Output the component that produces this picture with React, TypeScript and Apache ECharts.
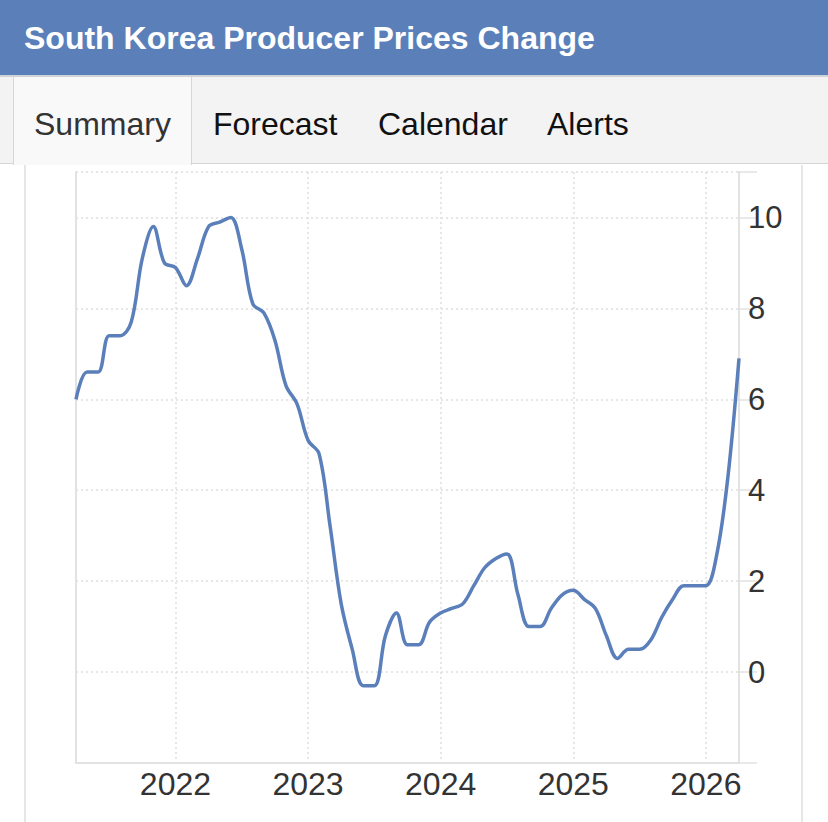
import { useEffect, useRef } from "react";
import * as echarts from "echarts";

const FONT = '"Liberation Sans", Arial, Helvetica, sans-serif';

const title = "South Korea Producer Prices Change";
const tabs = ["Summary", "Forecast", "Calendar", "Alerts"];
const tabLeft = [34, 213, 378, 547];

// Monthly year-on-year change in producer prices, Apr 2021 – Apr 2026 (%)
const ppiChange = [
  // 2021 (Apr–Dec)
  6.0, 6.6, 6.6, 7.4, 7.4, 7.7, 9.1, 9.8, 9.0,
  // 2022
  8.9, 8.5, 9.1, 9.8, 9.9, 10.0, 9.3, 8.1, 7.9, 7.3, 6.3, 5.9,
  // 2023
  5.1, 4.8, 3.2, 1.5, 0.5, -0.3, -0.3, 0.8, 1.3, 0.6, 0.6, 1.1,
  // 2024
  1.3, 1.4, 1.5, 1.9, 2.3, 2.5, 2.6, 1.7, 1.0, 1.0, 1.4, 1.7,
  // 2025
  1.8, 1.6, 1.4, 0.8, 0.3, 0.5, 0.5, 0.7, 1.2, 1.6, 1.9, 1.9,
  // 2026 (Jan–Apr)
  1.9, 2.6, 4.3, 6.9,
];

const firstYear = 2021;
const firstMonth = 4;
const categories: string[] = ppiChange.map((_, i) => {
  const m0 = firstMonth - 1 + i;
  const y = firstYear + Math.floor(m0 / 12);
  const m = (m0 % 12) + 1;
  return `${y}-${String(m).padStart(2, "0")}`;
});

const yearLabels = ["2022", "2023", "2024", "2025", "2026"];
const yTickLabels = [0, 2, 4, 6, 8, 10];

const isYearStart = (index: number) => {
  const c = categories[index];
  return c.endsWith("-01") && yearLabels.includes(c.slice(0, 4));
};

const gridStroke = "#dedede";
const axisStroke = "#e2e2e2";
const lineColor = "#5a7fba";

function PpiChart() {
  const ref = useRef<HTMLDivElement>(null);

  useEffect(() => {
    if (!ref.current) return;
    const chart = echarts.init(ref.current, undefined, { renderer: "svg" });
    chart.setOption({
      animation: false,
      grid: {
        left: 76,
        right: 89,
        top: 8,
        bottom: 59,
        containLabel: false,
        outerBoundsMode: "none",
      },
      xAxis: {
        type: "category",
        data: categories,
        boundaryGap: false,
        axisLine: {
          show: true,
          onZero: false,
          lineStyle: { color: axisStroke, width: 2 },
        },
        axisTick: { show: false },
        axisLabel: {
          interval: (index: number) => isYearStart(index),
          formatter: (v: string) => v.slice(0, 4),
          color: "#333",
          fontSize: 32,
          fontFamily: FONT,
          margin: 5,
        },
        splitLine: {
          show: true,
          interval: (index: number) => isYearStart(index),
          lineStyle: { color: gridStroke, type: [2, 3], width: 1.5 },
        },
      },
      yAxis: [
        {
          type: "value",
          position: "right",
          min: -2,
          max: 11,
          interval: 2,
          axisLine: { show: true, lineStyle: { color: axisStroke, width: 2 } },
          axisTick: {
            show: true,
            length: 18,
            lineStyle: { color: axisStroke, width: 1.5 },
          },
          axisLabel: {
            color: "#333",
            fontSize: 31,
            fontFamily: FONT,
            margin: 9,
            padding: [0, 0, 8, 0],
            formatter: (v: number) =>
              yTickLabels.includes(v) ? String(v) : "",
          },
          splitLine: {
            show: true,
            lineStyle: { color: gridStroke, type: [2, 3], width: 1.5 },
          },
        },
        {
          type: "value",
          position: "left",
          min: -2,
          max: 11,
          interval: 2,
          axisLine: { show: true, lineStyle: { color: axisStroke, width: 2 } },
          axisTick: { show: false },
          axisLabel: { show: false },
          splitLine: { show: false },
        },
      ],
      series: [
        {
          type: "line",
          data: ppiChange,
          yAxisIndex: 0,
          smooth: 0.35,
          showSymbol: false,
          lineStyle: { color: lineColor, width: 3.5 },
          itemStyle: { color: lineColor },
        },
      ],
    });
    return () => chart.dispose();
  }, []);

  return (
    <div
      ref={ref}
      style={{
        position: "absolute",
        left: 0,
        top: 164,
        width: 828,
        height: 658,
      }}
    />
  );
}

export default function App() {
  return (
    <div
      style={{
        position: "absolute",
        left: 0,
        top: 0,
        width: 828,
        height: 822,
        background: "#fff",
        overflow: "hidden",
        fontFamily: FONT,
      }}
    >
      {/* title bar */}
      <div
        style={{
          position: "absolute",
          left: 0,
          top: 0,
          width: 828,
          height: 75,
          background: "#5b80b9",
          borderBottom: "2px solid #cfd3d8",
        }}
      >
        <div
          style={{
            position: "absolute",
            left: 24,
            top: 18,
            height: 40,
            lineHeight: "40px",
            fontSize: 32,
            fontWeight: 700,
            color: "#fff",
            whiteSpace: "nowrap",
          }}
        >
          {title}
        </div>
      </div>

      {/* tab strip */}
      <div
        style={{
          position: "absolute",
          left: 0,
          top: 77,
          width: 828,
          height: 86,
          background: "#f3f3f3",
          borderBottom: "1px solid #d6d6d6",
        }}
      />
      <div
        style={{
          position: "absolute",
          left: 13,
          top: 77,
          width: 177,
          height: 88,
          background: "#f9f9f9",
          borderLeft: "1px solid #d6d6d6",
          borderRight: "1px solid #d6d6d6",
        }}
      />
      {tabs.map((t, i) => (
        <div
          key={t}
          style={{
            position: "absolute",
            left: tabLeft[i],
            top: 104,
            height: 40,
            lineHeight: "40px",
            fontSize: 32,
            color: i === 0 ? "#333" : "#111",
            whiteSpace: "nowrap",
          }}
        >
          {t}
        </div>
      ))}

      {/* panel edges */}
      <div
        style={{
          position: "absolute",
          left: 24,
          top: 165,
          width: 2,
          height: 657,
          background: "#e6e6e6",
        }}
      />
      <div
        style={{
          position: "absolute",
          left: 801,
          top: 165,
          width: 2,
          height: 657,
          background: "#e6e6e6",
        }}
      />

      <PpiChart />
    </div>
  );
}
